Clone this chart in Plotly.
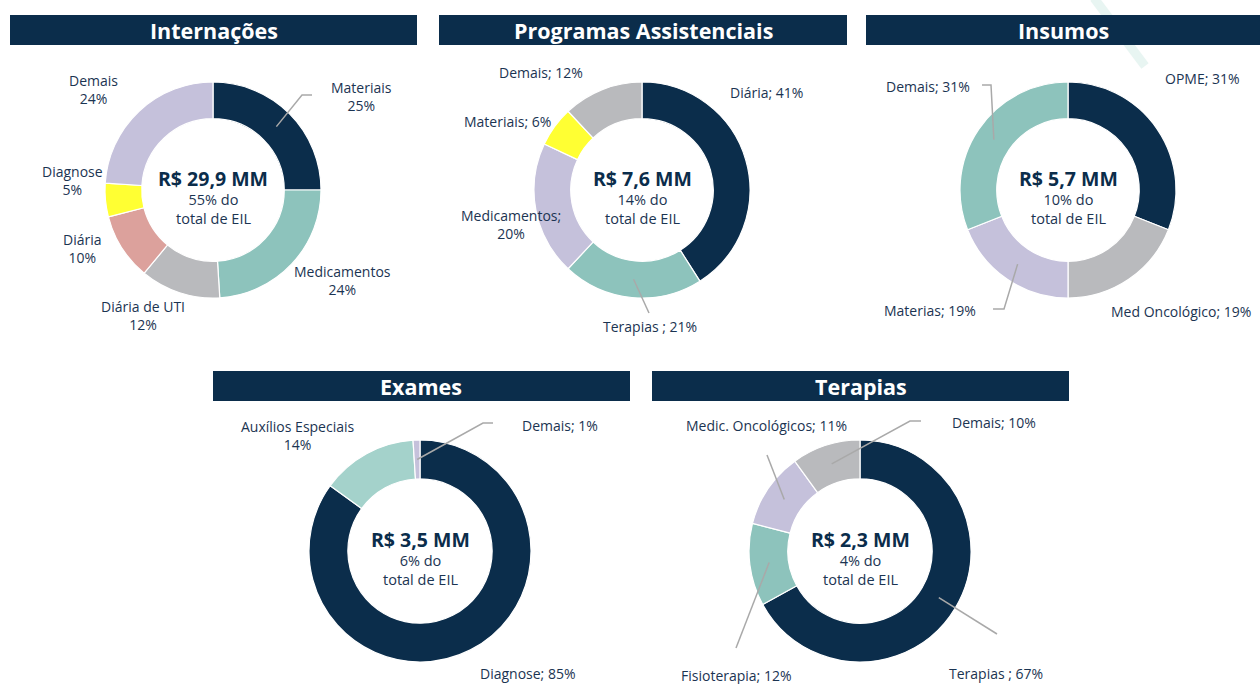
import math
import plotly.graph_objects as go

W, H = 1260, 684

# ---------------- data ----------------
intern_labels = ["Materiais", "Medicamentos", "Diária de UTI", "Diária", "Diagnose", "Demais"]
intern_values = [25, 24, 12, 10, 5, 24]

prog_labels = ["Diária", "Terapias", "Medicamentos", "Materiais", "Demais"]
prog_values = [41, 21, 20, 6, 12]

insumos_labels = ["OPME", "Med Oncológico", "Materias", "Demais"]
insumos_values = [31, 19, 19, 31]

exames_labels = ["Diagnose", "Auxílios Especiais", "Demais"]
exames_values = [85, 14, 1]

terap_labels = ["Terapias", "Fisioterapia", "Medic. Oncológicos", "Demais"]
terap_values = [67, 12, 11, 10]

titles = ["Internações", "Programas Assistenciais", "Insumos", "Exames", "Terapias"]
totals = ["R$ 29,9 MM", "R$ 7,6 MM", "R$ 5,7 MM", "R$ 3,5 MM", "R$ 2,3 MM"]
shares = [55, 14, 10, 6, 4]

# ---------------- styles ----------------
NAVY = "#0b2d4b"
TEAL = "#8dc3bc"
LTEAL = "#a4d2cb"
GRAY = "#b9babd"
PINK = "#dca19c"
YELLOW = "#ffff33"
LAV = "#c5c1db"
TXT = "#1b3452"
LEAD = "#a9a9a9"
FONT = "Open Sans"

# per panel: pixel geometry, colours, label layout (x, y, format, elbow points)
panels = [
    dict(labels=intern_labels, values=intern_values,
         colors=[NAVY, TEAL, GRAY, PINK, YELLOW, LAV],
         cx=213, cy=190, r=108, hole=0.66, bar=(10, 15, 417, 45),
         lab=[(361, 96, "{n}<br>{v}%", [(302, 95), (312, 95)]),
              (343, 280, "{n}<br>{v}%", None),
              (143, 315, "{n}<br>{v}%", None),
              (82, 248, "{n}<br>{v}%", None),
              (72, 181, "{n}<br>{v}%", None),
              (93, 90, "{n}<br>{v}%", None)]),
    dict(labels=prog_labels, values=prog_values,
         colors=[NAVY, TEAL, LAV, YELLOW, GRAY],
         cx=642, cy=190, r=108, hole=0.66, bar=(439, 15, 847, 45),
         lab=[(767, 93, "{n}; {v}%", None),
              (650, 326, "{n} ; {v}%", [(649, 313)]),
              (511, 224, "{n};<br>{v}%", None),
              (507, 121, "{n}; {v}%", None),
              (541, 72, "{n}; {v}%", None)]),
    dict(labels=insumos_labels, values=insumos_values,
         colors=[NAVY, GRAY, LAV, TEAL],
         cx=1068, cy=190, r=108, hole=0.66, bar=(866, 15, 1260, 45),
         lab=[(1202, 79, "{n}; {v}%", None),
              (1181, 311, "{n}; {v}%", None),
              (930, 310, "{n}; {v}%", [(1004, 309), (993, 309)]),
              (928, 86, "{n}; {v}%", [(991, 85), (982, 85)])]),
    dict(labels=exames_labels, values=exames_values,
         colors=[NAVY, LTEAL, LAV],
         cx=420, cy=551, r=111, hole=0.65, bar=(213, 371, 630, 401),
         lab=[(528, 673, "{n}; {v}%", None),
              (298, 435, "{n}<br>{v}%", None),
              (560, 425, "{n}; {v}%", [(483, 423), (493, 423)])]),
    dict(labels=terap_labels, values=terap_values,
         colors=[NAVY, TEAL, LAV, GRAY],
         cx=860, cy=551, r=111, hole=0.65, bar=(652, 371, 1069, 401),
         lab=[(996, 673, "{n} ; {v}%", [(997, 634)]),
              (736, 675, "{n}; {v}%", [(736, 648)]),
              (767, 425, "{n}; {v}%", [(767, 455)]),
              (994, 422, "{n}; {v}%", [(910, 421), (921, 421)])]),
]


def px(x):
    return x / W


def py(y):
    return 1 - y / H


def note(x, y, text, size, color):
    return dict(xref="paper", yref="paper", x=px(x), y=py(y), text=text,
                showarrow=False, xanchor="center", yanchor="middle",
                font=dict(family=FONT, size=size, color=color))


fig = go.Figure()
shapes = []
annotations = []

# faint decorative diagonal stroke behind the top-right header
shapes.append(dict(type="line", xref="paper", yref="paper",
                   x0=px(1094), y0=py(-2), x1=px(1145), y1=py(66),
                   line=dict(color="#e8f5f2", width=9), layer="below"))

for i, p in enumerate(panels):
    cx, cy, r = p["cx"], p["cy"], p["r"]
    fig.add_trace(go.Pie(
        labels=p["labels"], values=p["values"], sort=False,
        direction="clockwise", rotation=0, hole=p["hole"],
        marker=dict(colors=p["colors"], line=dict(color="white", width=1.2)),
        textinfo="none", hoverinfo="label+percent", showlegend=False,
        domain=dict(x=[px(cx - r), px(cx + r)], y=[py(cy + r), py(cy - r)]),
    ))

    # header bar with title
    x0, y0, x1, y1 = p["bar"]
    shapes.append(dict(type="rect", xref="paper", yref="paper",
                       x0=px(x0), y0=py(y1), x1=px(x1), y1=py(y0),
                       fillcolor=NAVY, line=dict(width=0)))
    annotations.append(note((x0 + x1) / 2, (y0 + y1) / 2, f"<b>{titles[i]}</b>", 21.5, "white"))

    # centre text
    annotations.append(note(cx, cy - 12, f"<b>{totals[i]}</b>", 19.5, NAVY))
    annotations.append(note(cx, cy + 19, f"{shares[i]}% do<br>total de EIL", 14.5, TXT))

    # slice labels and leader lines
    total = sum(p["values"])
    rm = r * (1 + p["hole"]) / 2
    cum = 0
    for name, val, (lx, ly, fmt, elbow) in zip(p["labels"], p["values"], p["lab"]):
        theta = 2 * math.pi * (cum + val / 2) / total
        cum += val
        annotations.append(note(lx, ly, fmt.format(n=name, v=val), 14, TXT))
        if elbow:
            sx = cx + rm * math.sin(theta)
            sy = cy - rm * math.cos(theta)
            pts = [(sx, sy)] + elbow
            path = "M " + " L ".join(f"{px(a):.5f},{py(b):.5f}" for a, b in pts)
            shapes.append(dict(type="path", xref="paper", yref="paper", path=path,
                               line=dict(color=LEAD, width=1.5)))

fig.update_layout(
    width=W, height=H,
    margin=dict(l=0, r=0, t=0, b=0),
    paper_bgcolor="white", plot_bgcolor="white",
    shapes=shapes, annotations=annotations,
    showlegend=False,
    font=dict(family=FONT, color=TXT),
)

fig.write_html("out.html")
